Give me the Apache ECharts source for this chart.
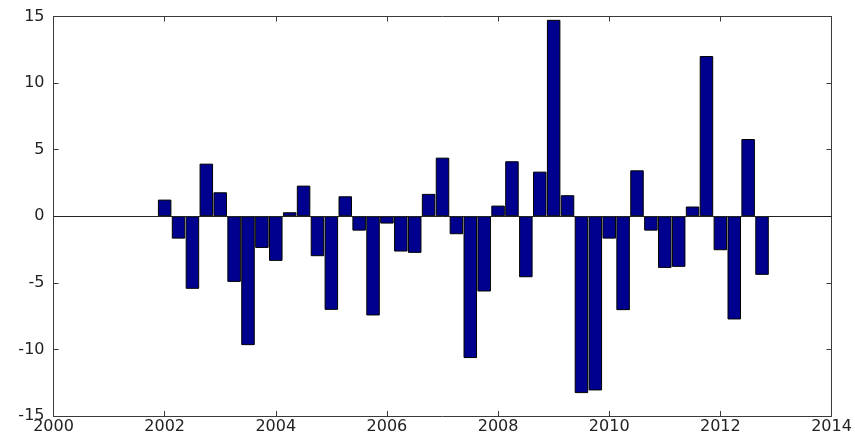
<!DOCTYPE html>
<html>
<head>
<meta charset="utf-8">
<script src="https://cdn.jsdelivr.net/npm/echarts@6/dist/echarts.min.js"></script>
<style>html,body{margin:0;padding:0;background:#fff;}#c{width:855px;height:438px;}</style>
</head>
<body>
<div id="c"></div>
<script>
// Quarterly periods (decimal years)
const periods = [
  2002.00, 2002.25, 2002.50, 2002.75,
  2003.00, 2003.25, 2003.50, 2003.75,
  2004.00, 2004.25, 2004.50, 2004.75,
  2005.00, 2005.25, 2005.50, 2005.75,
  2006.00, 2006.25, 2006.50, 2006.75,
  2007.00, 2007.25, 2007.50, 2007.75,
  2008.00, 2008.25, 2008.50, 2008.75,
  2009.00, 2009.25, 2009.50, 2009.75,
  2010.00, 2010.25, 2010.50, 2010.75,
  2011.00, 2011.25, 2011.50, 2011.75,
  2012.00, 2012.25, 2012.50, 2012.75
];
const values = [
  1.25, -1.68, -5.45, 3.95,
  1.8, -4.93, -9.68, -2.38,
  -3.35, 0.3, 2.3, -3.0,
  -7.03, 1.5, -1.08, -7.45,
  -0.55, -2.65, -2.75, 1.68,
  4.4, -1.35, -10.65, -5.65,
  0.8, 4.13, -4.58, 3.35,
  14.75, 1.58, -13.28, -13.08,
  -1.68, -7.05, 3.45, -1.08,
  -3.88, -3.8, 0.73, 12.03,
  -2.55, -7.75, 5.8, -4.4
];
const xTicks = [2000, 2002, 2004, 2006, 2008, 2010, 2012, 2014];
const yTicks = [-15, -10, -5, 0, 5, 10, 15];

const chart = echarts.init(document.getElementById('c'));
const axisColor = '#3a3a3a';
const font = { fontFamily: 'DejaVu Sans', fontSize: 16, color: '#222' };
chart.setOption({
  animation: false,
  backgroundColor: '#ffffff',
  grid: { left: 53.5, right: 23.5, top: 16.5, bottom: 22 },
  xAxis: [
    { type: 'value', min: xTicks[0], max: xTicks[xTicks.length - 1], interval: 2,
      axisLine: { show: true, onZero: false, lineStyle: { color: axisColor, width: 1 } },
      axisTick: { show: true, inside: true, length: 5, lineStyle: { color: axisColor } },
      axisLabel: Object.assign({ margin: 3, formatter: v => String(v) }, font),
      splitLine: { show: false } },
    { type: 'value', position: 'top', min: xTicks[0], max: xTicks[xTicks.length - 1], interval: 2,
      axisLine: { show: true, onZero: false, lineStyle: { color: axisColor, width: 1 } },
      axisTick: { show: true, inside: true, length: 5, lineStyle: { color: axisColor } },
      axisLabel: { show: false }, splitLine: { show: false } }
  ],
  yAxis: [
    { type: 'value', min: yTicks[0], max: yTicks[yTicks.length - 1], interval: 5,
      axisLine: { show: true, onZero: false, lineStyle: { color: axisColor, width: 1 } },
      axisTick: { show: true, inside: true, length: 5, lineStyle: { color: axisColor } },
      axisLabel: Object.assign({ margin: 9, formatter: v => String(v) }, font),
      splitLine: { show: false } },
    { type: 'value', position: 'right', min: yTicks[0], max: yTicks[yTicks.length - 1], interval: 5,
      axisLine: { show: true, onZero: false, lineStyle: { color: axisColor, width: 1 } },
      axisTick: { show: true, inside: true, length: 5, lineStyle: { color: axisColor } },
      axisLabel: { show: false }, splitLine: { show: false } }
  ],
  series: [{
    type: 'bar',
    xAxisIndex: 0, yAxisIndex: 0,
    barWidth: 13.5,
    data: periods.map((p, i) => [p, values[i]]),
    itemStyle: { color: '#00008f', borderColor: '#000000', borderWidth: 1 },
    markLine: {
      silent: true, symbol: 'none', label: { show: false },
      lineStyle: { color: '#222', width: 1, type: 'solid' },
      data: [{ yAxis: 0 }]
    }
  }]
});
</script>
</body>
</html>
